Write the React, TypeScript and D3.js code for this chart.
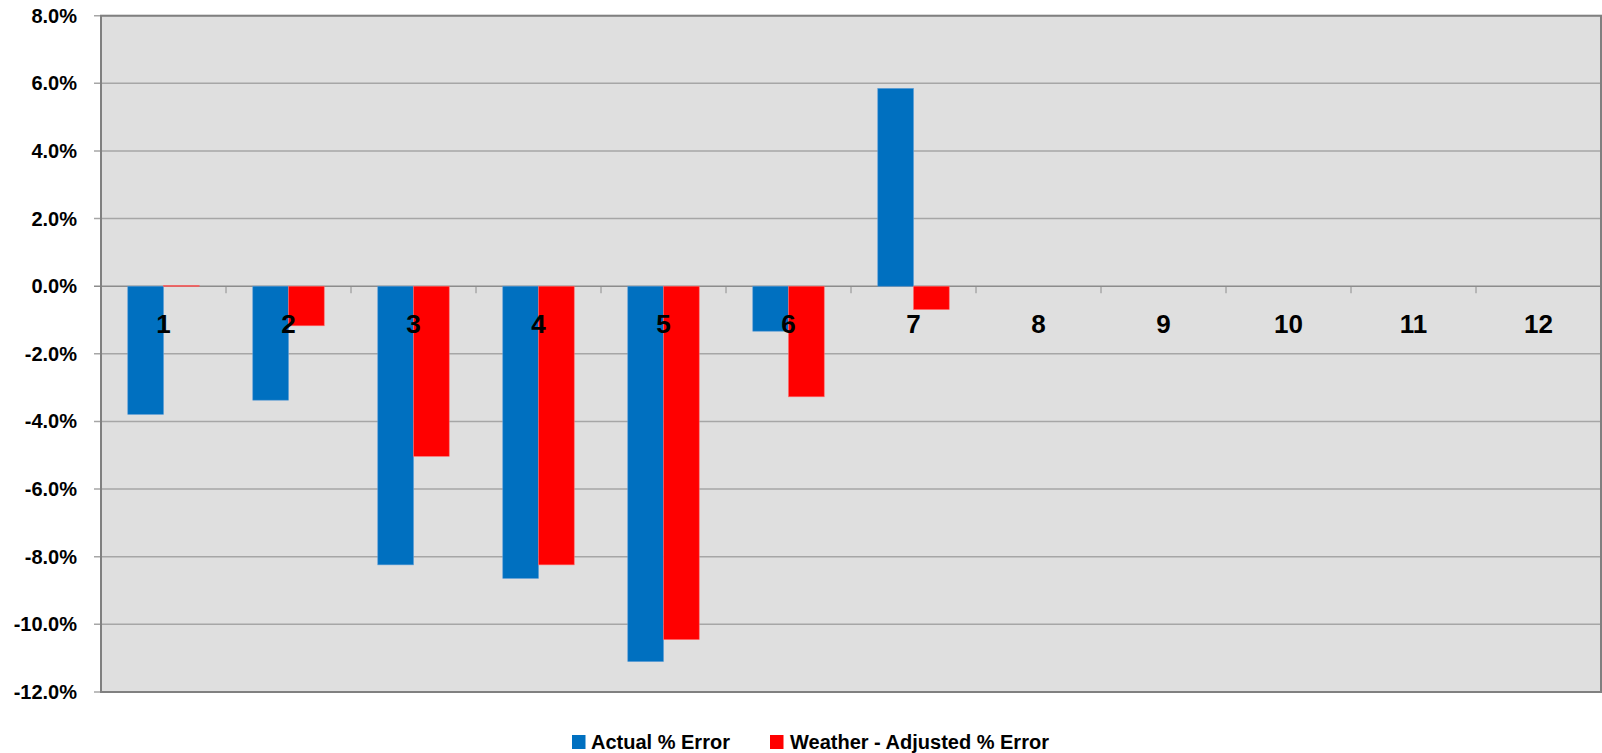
import React from "react";
import * as d3 from "d3";

const categories = ["1", "2", "3", "4", "5", "6", "7", "8", "9", "10", "11", "12"];
const actualError: (number | null)[] = [-3.79, -3.37, -8.24, -8.64, -11.1, -1.33, 5.85, null, null, null, null, null];
const weatherAdjustedError: (number | null)[] = [0.02, -1.17, -5.03, -8.24, -10.45, -3.27, -0.69, null, null, null, null, null];
const yTicks = [8, 6, 4, 2, 0, -2, -4, -6, -8, -10, -12];
const seriesNames = ["Actual % Error", "Weather - Adjusted % Error"];
const seriesColors = ["#0070C0", "#FF0000"];

const W = 1602;
const H = 753;
const left = 101;
const right = 1601;
const top = 15.7;
const bottom = 692;
const FONT = "'Liberation Sans', Arial, sans-serif";

export default function App() {
  const x = d3.scaleBand<string>().domain(categories).range([left, right]).paddingInner(0).paddingOuter(0);
  const y = d3.scaleLinear().domain([-12, 8]).range([bottom, top]);
  const bw = x.bandwidth() / 3.5;
  const y0 = y(0);
  const series = [actualError, weatherAdjustedError];

  return (
    <svg width={W} height={H} style={{ position: "absolute", left: 0, top: 0, background: "#fff" }}>
      <rect x={left} y={top} width={right - left} height={bottom - top} fill="#DFDFDF" />
      {yTicks.map((t) => (
        <g key={t}>
          <line x1={left - 7} x2={right} y1={y(t)} y2={y(t)} stroke={t === 0 ? "#8c8c8c" : "#a6a6a6"} strokeWidth={t === 0 ? 1.5 : 1.5} />
          <text x={77} y={y(t) + 7} textAnchor="end" fontFamily={FONT} fontWeight="bold" fontSize={20} fill="#000">
            {t.toFixed(1) + "%"}
          </text>
        </g>
      ))}
      {series.map((vals, si) =>
        vals.map((v, i) =>
          v === null ? null : (
            <rect
              key={si + "-" + i}
              x={(x(categories[i]) as number) + bw * 0.75 + si * bw}
              y={Math.min(y(v), y0)}
              width={bw}
              height={Math.max(Math.abs(y(v) - y0), 0.8)}
              fill={seriesColors[si]}
              stroke={si === 0 ? "#5b9bd5" : "#ff6b6b"}
              strokeWidth={0.6}
            />
          )
        )
      )}
      {categories.map((c, i) =>
        i === 0 ? null : (
          <line key={"tk" + c} x1={x(c) as number} x2={x(c) as number} y1={y0} y2={y0 + 7} stroke="#8c8c8c" strokeWidth={1} />
        )
      )}
      {categories.map((c) => (
        <text
          key={"lb" + c}
          x={(x(c) as number) + x.bandwidth() / 2}
          y={332.5}
          textAnchor="middle"
          fontFamily={FONT}
          fontWeight="bold"
          fontSize={26}
          fill="#000"
        >
          {c}
        </text>
      ))}
      <rect x={left} y={top} width={right - left} height={bottom - top} fill="none" stroke="#808080" strokeWidth={2} />
      <rect x={572} y={735} width={13.5} height={14} fill={seriesColors[0]} />
      <text x={591} y={749} fontFamily={FONT} fontWeight="bold" fontSize={20} fill="#000">
        {seriesNames[0]}
      </text>
      <rect x={770} y={735} width={13.5} height={14} fill={seriesColors[1]} />
      <text x={790} y={749} fontFamily={FONT} fontWeight="bold" fontSize={20} fill="#000">
        {seriesNames[1]}
      </text>
    </svg>
  );
}
